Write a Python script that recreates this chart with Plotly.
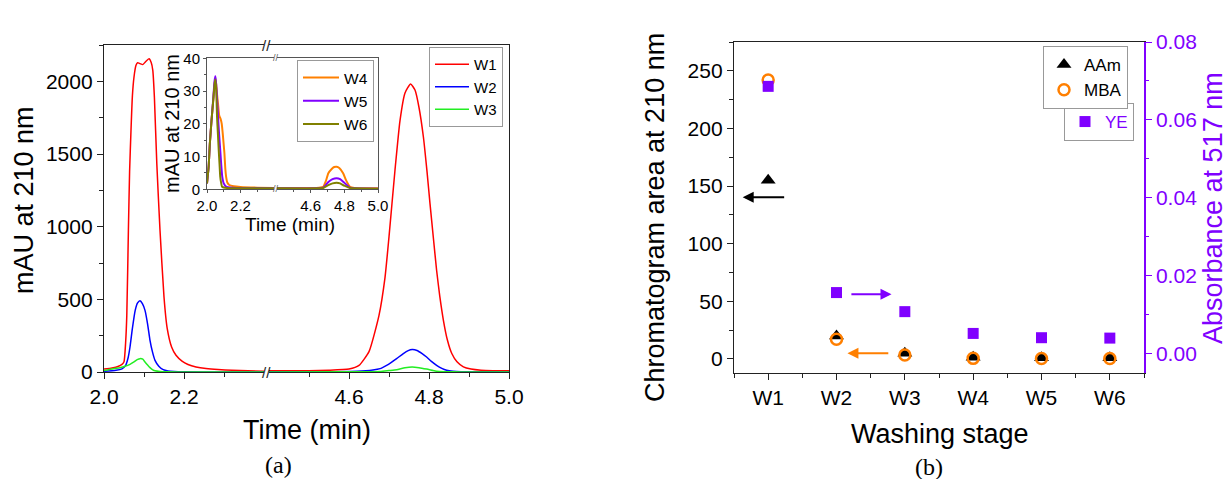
import plotly.graph_objects as go

# ---------------- data: panel (a) main chromatograms ----------------
t_w1_a = [2.000, 2.020, 2.035, 2.045, 2.050, 2.054, 2.057, 2.061, 2.064, 2.0675, 2.071, 2.075, 2.080, 2.084,
          2.090, 2.097, 2.104, 2.1125, 2.118, 2.122, 2.126, 2.132, 2.140, 2.150, 2.158, 2.169, 2.180, 2.195,
          2.210, 2.230, 2.255, 2.285, 2.320, 2.360, 2.400]
v_w1_a = [20, 28, 38, 52, 70, 200, 390, 975, 1380, 1663, 1900, 2030, 2110, 2128,
          2122, 2115, 2135, 2155, 2130, 2076, 1890, 1434, 975, 516, 300, 172, 115, 75,
          52, 35, 24, 17, 12, 8, 6]
t_w1_b = [4.400, 4.450, 4.500, 4.550, 4.600, 4.625, 4.650, 4.675, 4.690, 4.700, 4.715, 4.7275, 4.740, 4.754,
          4.765, 4.775, 4.786, 4.795, 4.8025, 4.811, 4.819, 4.827, 4.836, 4.846, 4.857, 4.870, 4.886, 4.905,
          4.930, 4.960, 5.000]
v_w1_b = [8, 8, 9, 12, 20, 45, 140, 390, 650, 930, 1390, 1730, 1920, 1982,
          1940, 1820, 1617, 1380, 1159, 920, 700, 520, 356, 220, 127, 70, 35, 20,
          12, 9, 8]

t_w2_a = [2.000, 2.030, 2.045, 2.053, 2.060, 2.065, 2.071, 2.078, 2.084, 2.090, 2.096, 2.1025, 2.109, 2.115,
          2.121, 2.1275, 2.137, 2.148, 2.160, 2.175, 2.200, 2.300, 2.400]
v_w2_a = [5, 12, 22, 40, 95, 172, 300, 424, 475, 490, 470, 424, 330, 218,
          140, 80, 40, 16, 7, 3, 1, 0.5, 0.5]
t_w2_b = [4.400, 4.550, 4.620, 4.660, 4.6775, 4.694, 4.705, 4.719, 4.735, 4.748, 4.758, 4.770, 4.782, 4.794,
          4.806, 4.819, 4.832, 4.844, 4.860, 4.880, 4.950, 5.000]
v_w2_b = [1, 2, 5, 14, 23, 46, 65, 92, 125, 147, 154, 148, 128, 103,
          73, 46, 25, 12, 5, 2, 1, 0.5]

t_w3_a = [2.000, 2.023, 2.040, 2.0525, 2.065, 2.075, 2.083, 2.090, 2.097, 2.1025, 2.109, 2.115, 2.122, 2.1275,
          2.140, 2.160, 2.200, 2.400]
v_w3_a = [10, 23, 30, 39, 53, 70, 85, 92, 88, 69, 48, 30, 15, 8,
          3, 1, 0.5, 0.3]
t_w3_b = [4.400, 4.600, 4.6775, 4.700, 4.719, 4.740, 4.758, 4.775, 4.794, 4.810, 4.819, 4.840, 4.880, 5.000]
v_w3_b = [0.5, 1, 3, 10, 16, 30, 35, 30, 20, 10, 5, 2, 0.5, 0.3]

# ---------------- data: panel (a) inset ----------------
t_w4_a = [2.000, 2.010, 2.017, 2.027, 2.037, 2.045, 2.050, 2.055, 2.060, 2.066, 2.073, 2.081, 2.088, 2.094,
          2.099, 2.104, 2.109, 2.114, 2.122, 2.133, 2.160, 2.200, 2.300, 2.400]
v_w4_a = [1.8, 7, 14, 21, 27, 32, 34, 32, 29, 26, 22.5, 21.5, 20, 17,
          14, 11, 6.5, 3.9, 2.0, 1.3, 0.9, 0.7, 0.5, 0.4]
t_w4_b = [4.400, 4.600, 4.650, 4.675, 4.690, 4.705, 4.725, 4.740, 4.754, 4.770, 4.793, 4.810, 4.833, 4.860, 5.000]
v_w4_b = [0.4, 0.4, 0.5, 0.8, 2.5, 4.9, 6.2, 6.8, 6.9, 6.5, 4.9, 2.8, 0.8, 0.4, 0.3]

t_w5_a = [2.000, 2.010, 2.017, 2.027, 2.037, 2.045, 2.050, 2.055, 2.060, 2.066, 2.072, 2.079, 2.085, 2.091,
          2.100, 2.114, 2.150, 2.400]
v_w5_a = [1.8, 7, 14, 21, 27.5, 33, 34.5, 32, 27.5, 22, 17, 12, 7.5, 3.9,
          1.8, 0.8, 0.5, 0.3]
t_w5_b = [4.400, 4.650, 4.675, 4.705, 4.730, 4.754, 4.775, 4.800, 4.833, 4.860, 5.000]
v_w5_b = [0.3, 0.3, 0.5, 2.2, 3.1, 3.4, 3.1, 2.0, 0.5, 0.3, 0.2]

t_w6_a = [2.000, 2.010, 2.017, 2.027, 2.037, 2.045, 2.050, 2.055, 2.060, 2.065, 2.070, 2.075, 2.079, 2.085,
          2.090, 2.120, 2.400]
v_w6_a = [1.8, 7, 14, 21, 27, 32, 33.5, 30.5, 22, 17, 12, 7.5, 3.9, 1.8,
          0.8, 0.4, 0.3]
t_w6_b = [4.400, 4.650, 4.675, 4.705, 4.730, 4.754, 4.775, 4.800, 4.833, 4.860, 5.000]
v_w6_b = [0.3, 0.3, 0.4, 1.3, 1.8, 2.0, 1.8, 1.1, 0.4, 0.3, 0.2]

# ---------------- data: panel (b) ----------------
stages = ["W1", "W2", "W3", "W4", "W5", "W6"]
stage_pos = [1, 2, 3, 4, 5, 6]
aam_area = [155, 20, 5, 1.5, 1, 1]
mba_area = [242, 17, 3.5, 0.5, 0.3, 0.3]
ye_abs = [0.0686, 0.0156, 0.0107, 0.0051, 0.0040, 0.0039]

main_ticks_left = [2.0, 2.2]
main_ticks_right = [4.6, 4.8, 5.0]
main_y_ticks = [0, 500, 1000, 1500, 2000]
inset_y_ticks = [0, 10, 20, 30, 40]
abs_ticks = [0.00, 0.02, 0.04, 0.06, 0.08]
area_ticks = [0, 50, 100, 150, 200, 250]

# ---------------- layout helpers ----------------
W, H = 1230, 479
def fx(p):
    return p / W
def fy(p):
    return 1 - p / H

FONT = "Liberation Sans, Arial, sans-serif"
SERIF = "Liberation Serif, Times New Roman, serif"
AX = "#222222"
INS = "#555555"
PURPLE = "#8000FF"
ORANGE = "#FF7F00"

fig = go.Figure()

red, blue, green = "#FF0000", "#0000FF", "#22EE22"
orange, purple, olive = "#FF8000", "#8000FF", "#808000"

def add_line(t, v, xa, ya, color, name, legend, show, width):
    fig.add_trace(go.Scatter(x=t, y=v, xaxis=xa, yaxis=ya, mode="lines",
                             line=dict(color=color, width=width, shape="spline", smoothing=0.5),
                             name=name, legend=legend, showlegend=show))

# main
add_line(t_w1_a, v_w1_a, "x", "y", red, "W1", "legend", True, 1.5)
add_line(t_w2_a, v_w2_a, "x", "y", blue, "W2", "legend", True, 1.5)
add_line(t_w3_a, v_w3_a, "x", "y", green, "W3", "legend", True, 1.5)
add_line(t_w1_b, v_w1_b, "x2", "y2", red, "W1", "legend", False, 1.5)
add_line(t_w2_b, v_w2_b, "x2", "y2", blue, "W2", "legend", False, 1.5)
add_line(t_w3_b, v_w3_b, "x2", "y2", green, "W3", "legend", False, 1.5)
# inset
add_line(t_w4_a, v_w4_a, "x3", "y3", orange, "W4", "legend2", True, 2)
add_line(t_w5_a, v_w5_a, "x3", "y3", purple, "W5", "legend2", True, 2)
add_line(t_w6_a, v_w6_a, "x3", "y3", olive, "W6", "legend2", True, 2)
add_line(t_w4_b, v_w4_b, "x4", "y4", orange, "W4", "legend2", False, 2)
add_line(t_w5_b, v_w5_b, "x4", "y4", purple, "W5", "legend2", False, 2)
add_line(t_w6_b, v_w6_b, "x4", "y4", olive, "W6", "legend2", False, 2)

# panel b
fig.add_trace(go.Scatter(x=stage_pos, y=ye_abs, xaxis="x5", yaxis="y6", mode="markers",
                         marker=dict(symbol="square", size=11, color=PURPLE),
                         name="YE", legend="legend4"))
fig.add_trace(go.Scatter(x=stage_pos, y=aam_area, xaxis="x5", yaxis="y5", mode="markers",
                         marker=dict(symbol="triangle-up", size=13, color="black"),
                         name="AAm", legend="legend3"))
fig.add_trace(go.Scatter(x=stage_pos, y=mba_area, xaxis="x5", yaxis="y5", mode="markers",
                         marker=dict(symbol="circle-open", size=11, color=ORANGE, line=dict(width=2.5, color=ORANGE)),
                         name="MBA", legend="legend3"))

tickfont = dict(family=FONT, size=21, color="black")
common = dict(showgrid=False, zeroline=False, showline=True, linewidth=1.3, ticks="outside",
              tickwidth=1.2, ticklen=6, tickfont=tickfont, automargin=False)

# main axes
yd_main = [fy(372), fy(45)]
fig.update_layout(
    xaxis=dict(domain=[fx(104), fx(264)], range=[2.0, 2.4], anchor="y", tickvals=main_ticks_left,
               ticktext=[f"{v:.1f}" for v in main_ticks_left], mirror=True, linecolor=AX, tickcolor=AX,
               minor=dict(tickvals=[2.1, 2.3], ticklen=3.5, ticks="outside", tickcolor=AX), **common),
    xaxis2=dict(domain=[fx(269), fx(509)], range=[4.4, 5.0], anchor="y2", tickvals=main_ticks_right,
                ticktext=[f"{v:.1f}" for v in main_ticks_right], mirror=True, linecolor=AX, tickcolor=AX,
                minor=dict(tickvals=[4.5, 4.7, 4.9], ticklen=3.5, ticks="outside", tickcolor=AX), **common),
    yaxis=dict(domain=yd_main, range=[0, 2250], anchor="x", tickvals=main_y_ticks, linecolor=AX, tickcolor=AX,
               minor=dict(dtick=250, ticklen=3.5, ticks="outside", tickcolor=AX), **common),
    yaxis2=dict(domain=yd_main, range=[0, 2250], anchor="x2", side="right", matches="y", automargin=False,
                showgrid=False, zeroline=False, showline=True, linewidth=1.3, linecolor=AX,
                ticks="", showticklabels=False),
)

# inset axes
ins_font = dict(family=FONT, size=15, color="black")
ins_common = dict(showgrid=False, zeroline=False, showline=True, linewidth=1, ticks="outside",
                  tickwidth=1, ticklen=3, tickfont=ins_font, linecolor=INS, tickcolor=INS, automargin=False)
yd_ins = [fy(189.3), fy(58.3)]
fig.update_layout(
    xaxis3=dict(domain=[fx(207), fx(274)], range=[2.0, 2.4], anchor="y3", tickvals=main_ticks_left,
                ticktext=[f"{v:.1f}" for v in main_ticks_left], mirror=True,
                minor=dict(tickvals=[2.1, 2.3], ticklen=2, ticks="outside", tickcolor=INS), **ins_common),
    xaxis4=dict(domain=[fx(277), fx(378)], range=[4.4, 5.0], anchor="y4", tickvals=main_ticks_right,
                ticktext=[f"{v:.1f}" for v in main_ticks_right], mirror=True,
                minor=dict(tickvals=[4.5, 4.7, 4.9], ticklen=2, ticks="outside", tickcolor=INS), **ins_common),
    yaxis3=dict(domain=yd_ins, range=[0, 40], anchor="x3", tickvals=inset_y_ticks,
                minor=dict(dtick=5, ticklen=2, ticks="outside", tickcolor=INS), **ins_common),
    yaxis4=dict(domain=yd_ins, range=[0, 40], anchor="x4", side="right", matches="y3", automargin=False,
                showgrid=False, zeroline=False, showline=True, linewidth=1, linecolor=INS,
                ticks="", showticklabels=False),
)

# panel b axes
yd_b = [fy(373), fy(42)]
fig.update_layout(
    xaxis5=dict(domain=[fx(734), fx(1144)], range=[0.5, 6.5], anchor="y5", tickvals=stage_pos, ticktext=stages,
                mirror=True, linecolor=AX, tickcolor=AX,
                minor=dict(tickvals=[0.5, 1.5, 2.5, 3.5, 4.5, 5.5, 6.5], ticklen=3.5, ticks="outside", tickcolor=AX),
                **common),
    yaxis5=dict(domain=yd_b, range=[-12.2, 275], anchor="x5", tickvals=area_ticks, linecolor=AX, tickcolor=AX,
                minor=dict(dtick=25, ticklen=3.5, ticks="outside", tickcolor=AX), **common),
    yaxis6=dict(range=[-0.00507, 0.08], overlaying="y5", anchor="x5", side="right", tickvals=abs_ticks,
                tickformat=".2f", showgrid=False, zeroline=False, showline=True, linewidth=1.5, automargin=False,
                linecolor=PURPLE, tickcolor=PURPLE, ticks="outside", tickwidth=1.2, ticklen=6,
                tickfont=dict(family=FONT, size=21, color=PURPLE),
                minor=dict(dtick=0.01, ticklen=3.5, ticks="outside", tickcolor=PURPLE)),
)

leg_common = dict(xanchor="left", yanchor="top", bgcolor="white", bordercolor="#999999", borderwidth=1,
                  tracegroupgap=0)
fig.update_layout(
    legend=dict(x=fx(429), y=fy(47), font=dict(family=FONT, size=15, color="black"), itemwidth=34, **leg_common),
    legend2=dict(x=fx(297), y=fy(60), font=dict(family=FONT, size=15.5, color="black"), itemwidth=36, **leg_common),
    legend3=dict(x=fx(1043), y=fy(46), font=dict(family=FONT, size=17, color="black"), **leg_common),
    legend4=dict(x=fx(1064), y=fy(103), font=dict(family=FONT, size=17, color=PURPLE), **leg_common),
)

ann = []
def text(x, y, s, size, color="black", angle=0, family=FONT):
    ann.append(dict(x=fx(x), y=fy(y), xref="paper", yref="paper", text=s, showarrow=False,
                    font=dict(family=family, size=size, color=color), textangle=angle,
                    xanchor="center", yanchor="middle"))

text(24, 200, "mAU at 210 nm", 27, angle=-90)
text(307, 430, "Time (min)", 27)
text(278, 465, "(a)", 24, family=SERIF)
text(172, 124, "mAU at 210 nm", 20, angle=-90)
text(290, 224, "Time (min)", 19)
text(655, 218, "Chromatogram area at 210 nm", 27, angle=-90)
text(940, 434, "Washing stage", 27)
text(929, 467, "(b)", 24, family=SERIF)
text(1213, 208, "Absorbance at 517 nm", 27, color=PURPLE, angle=-90)
# axis-break marks
text(266.5, 45, "//", 15, color=AX)
text(266.5, 372, "//", 15, color=AX)
text(275.5, 58.3, "//", 9, color=INS)
text(275.5, 189.3, "//", 9, color=INS)

# arrows in panel b (data coordinates)
def arrow(x_head, y_head, x_tail, y_tail, ya, color):
    ann.append(dict(x=x_head, y=y_head, ax=x_tail, ay=y_tail, xref="x5", yref=ya, axref="x5", ayref=ya,
                    text="", showarrow=True, arrowhead=2, arrowsize=1.1, arrowwidth=2, arrowcolor=color,
                    standoff=0, startstandoff=0))

arrow(0.627, 140.4, 1.256, 140.4, "y5", "black")
arrow(2.805, 56.2, 2.196, 56.2, "y5", PURPLE)
arrow(2.16, 5, 2.78, 5, "y5", ORANGE)

fig.update_layout(annotations=ann, width=W, height=H,
                  margin=dict(l=0, r=0, t=0, b=0, pad=0, autoexpand=False),
                  paper_bgcolor="white", plot_bgcolor="white", font=dict(family=FONT))

fig.write_html("out.html", config={"displayModeBar": False},
               post_script="document.body.style.margin='0px';document.body.style.padding='0px';"
                           "document.body.style.overflow='hidden';")
